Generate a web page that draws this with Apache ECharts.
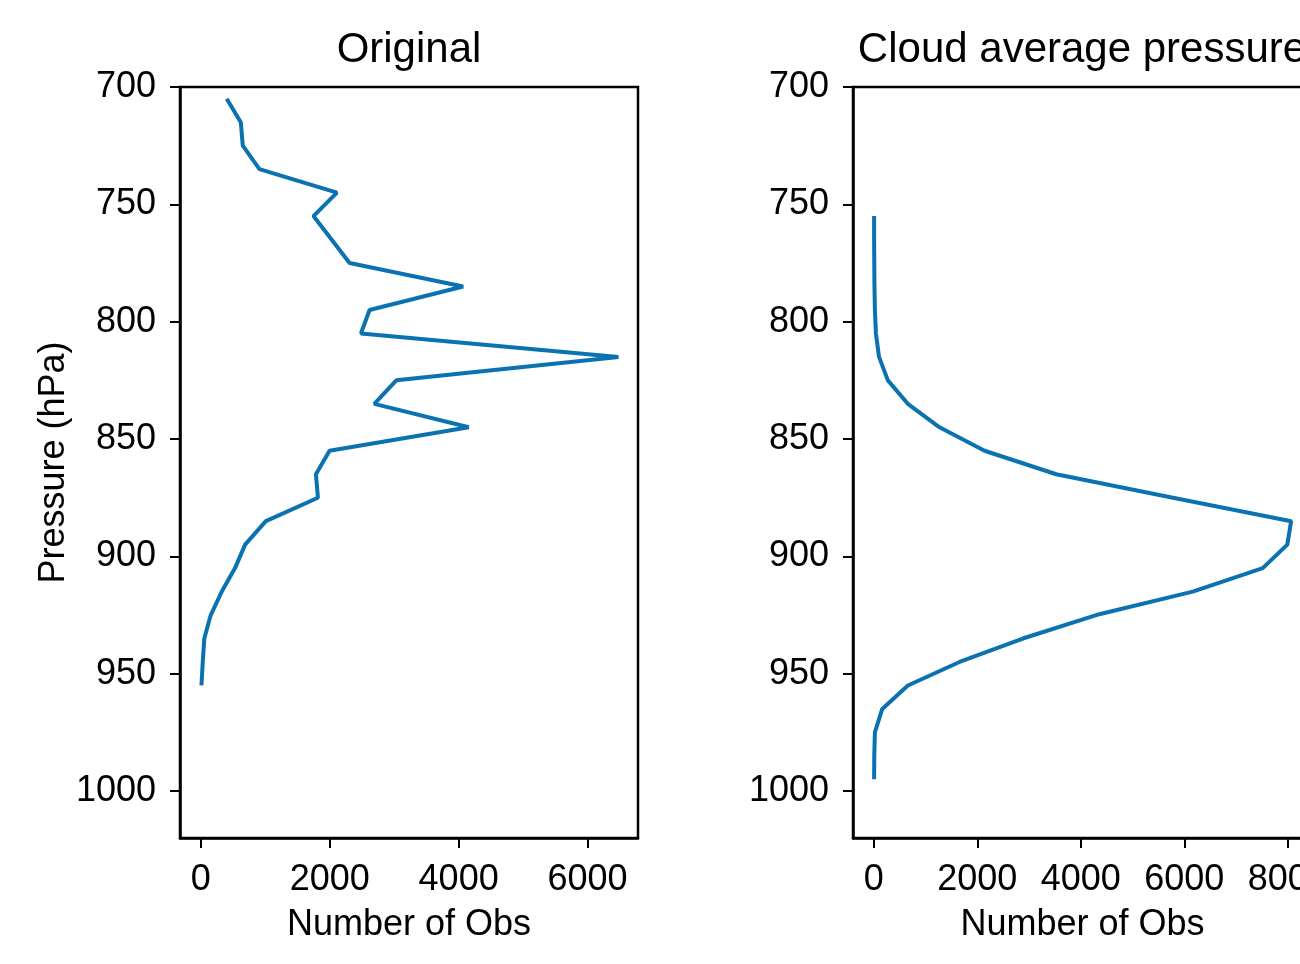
<!DOCTYPE html>
<html>
<head>
<meta charset="utf-8">
<script src="https://cdn.jsdelivr.net/npm/echarts@6/dist/echarts.min.js"></script>
<style>
html,body{margin:0;padding:0;background:#fff;}
#chart{width:1300px;height:964px;}
</style>
</head>
<body>
<div id="chart"></div>
<script>
// Panel 1: "Original"
const pressureOriginal = [705,715,725,735,745,755,765,775,785,795,805,815,825,835,845,855,865,875,885,895,905,915,925,935,945,955];
const obsOriginal = [402,620,651,909,2112,1748,2028,2308,4070,2618,2485,6480,3033,2692,4157,1997,1786,1817,1009,687,531,325,154,54,30,10];

// Panel 2: "Cloud average pressure"
const pressureCloud = [755,765,775,785,795,805,815,825,835,845,855,865,875,885,895,905,915,925,935,945,955,965,975,985,995];
const obsCloud = [5,5,8,12,20,40,100,271,657,1269,2139,3524,5780,8064,7990,7515,6163,4297,2879,1656,657,162,20,8,5];

const titles = ['Original', 'Cloud average pressure'];
const xTicks1 = [0,2000,4000,6000];
const xTicks2 = [0,2000,4000,6000,8000];
const yTicks = [700,750,800,850,900,950,1000];

const FONT = 'Liberation Sans, Arial, Helvetica, sans-serif';
const LINE_COLOR = '#0a72b0';

const chart = echarts.init(document.getElementById('chart'), null, {renderer:'canvas'});

const plain = v => String(Math.round(v));

function xAxisDef(gridIndex, min, max, ticks){
  return {
    type:'value', gridIndex, min, max,
    name:'Number of Obs', nameLocation:'middle', nameGap:69,
    nameTextStyle:{fontFamily:FONT, fontSize:36, color:'#000'},
    axisLine:{show:true, onZero:false, lineStyle:{color:'#000', width:2.5}},
    axisTick:{show:true, inside:false, length:10, lineStyle:{color:'#000', width:2}, customValues:ticks},
    axisLabel:{show:true, margin:24, fontFamily:FONT, fontSize:36, color:'#000', customValues:ticks, formatter:plain},
    splitLine:{show:false}
  };
}
function yAxisDef(gridIndex, withName){
  return {
    type:'value', gridIndex, min:700, max:1020, inverse:true,
    name: withName ? 'Pressure (hPa)' : '', nameLocation:'middle', nameGap:92,
    nameTextStyle:{fontFamily:FONT, fontSize:36, color:'#000'},
    axisLine:{show:true, onZero:false, lineStyle:{color:'#000', width:2.5}},
    axisTick:{show:true, inside:false, length:10, lineStyle:{color:'#000', width:2}, customValues:yTicks},
    axisLabel:{show:true, margin:24, fontFamily:FONT, fontSize:36, color:'#000', customValues:yTicks, formatter:plain, padding:[6,0,0,0]},
    splitLine:{show:false}
  };
}

chart.setOption({
  animation:false,
  backgroundColor:'#fff',
  title:[
    {text:titles[0], left:404, top:24, textAlign:'center', textStyle:{fontFamily:FONT, fontSize:42, fontWeight:'normal', color:'#000'}},
    {text:titles[1], left:1077, top:24, textAlign:'center', textStyle:{fontFamily:FONT, fontSize:42, fontWeight:'normal', color:'#000'}}
  ],
  grid:[
    {left:180, top:87, width:458, height:751, show:true, borderColor:'#000', borderWidth:2.5, backgroundColor:'transparent', outerBoundsMode:'none', containLabel:false},
    {left:853, top:87, width:459, height:751, show:true, borderColor:'#000', borderWidth:2.5, backgroundColor:'transparent', outerBoundsMode:'none', containLabel:false}
  ],
  xAxis:[
    xAxisDef(0, -323, 6783, xTicks1),
    xAxisDef(1, -403, 8467, xTicks2)
  ],
  yAxis:[
    yAxisDef(0, true),
    yAxisDef(1, false)
  ],
  series:[
    {type:'line', xAxisIndex:0, yAxisIndex:0, showSymbol:false, symbol:'none',
     lineStyle:{color:LINE_COLOR, width:4}, data:pressureOriginal.map((p,i)=>[obsOriginal[i], p])},
    {type:'line', xAxisIndex:1, yAxisIndex:1, showSymbol:false, symbol:'none',
     lineStyle:{color:LINE_COLOR, width:4}, data:pressureCloud.map((p,i)=>[obsCloud[i], p])}
  ]
});
</script>
</body>
</html>
